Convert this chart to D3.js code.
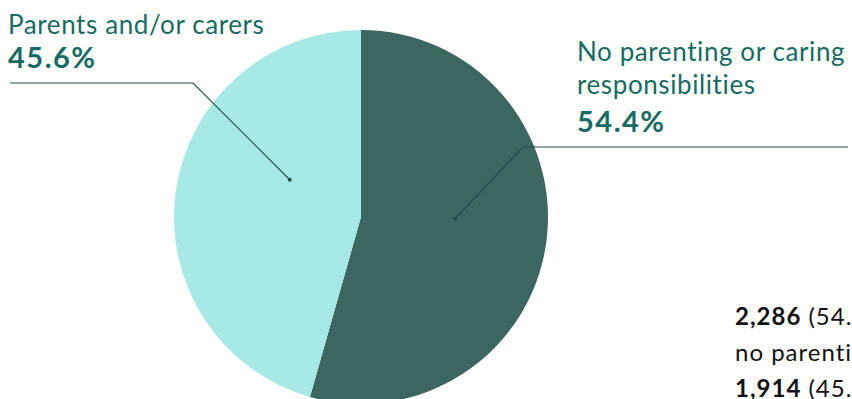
<!DOCTYPE html>
<html>
<head>
<meta charset="utf-8">
<style>
  html, body { margin: 0; padding: 0; background: #fff; overflow: hidden; }
  svg { display: block; }
</style>
</head>
<body>
<svg id="chart"></svg>
<script src="https://cdnjs.cloudflare.com/ajax/libs/d3/7.8.5/d3.min.js"></script>
<script>

  // data
  var categories = ['No parenting or caring responsibilities', 'Parents and/or carers'],
      shares     = [54.4, 45.6],
      counts     = [2286, 1914],
      notes      = ['had no parenting or caring responsibilities', 'were parents and/or carers'];

  // sizes and colours
  var width    = 852,
      height   = 399,
      cx       = 361,
      cy       = 217,
      radius   = 187,
      colors   = ['#3e6661', '#a7e9e4'],
      teal     = '#176b62',
      leader   = '#1e4d48',
      font     = 'Lato, "Open Sans", sans-serif';

  var svg = d3.select('#chart')
              .attr('width', width)
              .attr('height', height);

  var pie = d3.pie().sort(null).value(function(d) { return d; });
  var arcs = pie(shares);

  var arc = d3.arc().innerRadius(0).outerRadius(radius);

  var g = svg.append('g').attr('transform', 'translate(' + cx + ',' + cy + ')');

  g.selectAll('path.slice')
    .data(arcs)
    .enter().append('path')
      .attr('class', 'slice')
      .attr('d', arc)
      .style('fill', function(d, i) { return colors[i]; });

  // leader lines: anchor inside slice (fraction of angle span, fraction of radius),
  // elbow and end of horizontal run, plus label block position
  var labels = [
    { t: 0.465, r: 0.503, elbow: [523, 147], end: 848, tx: 577, ty: [61, 94], py: 132 },
    { t: 0.62,  r: 0.43,  elbow: [193, 83],  end: 10,  tx: 8,   ty: [34],     py: 68  }
  ];
  var lines = [['No parenting or caring', 'responsibilities'], ['Parents and/or carers']];

  labels.forEach(function(L, i) {
    var a  = arcs[i].startAngle + (arcs[i].endAngle - arcs[i].startAngle) * L.t,
        ax = cx + Math.sin(a) * radius * L.r,
        ay = cy - Math.cos(a) * radius * L.r;

    svg.append('polyline')
       .attr('points', [[ax, ay], L.elbow, [L.end, L.elbow[1]]].map(function(p) { return p.join(','); }).join(' '))
       .style('fill', 'none')
       .style('stroke', leader)
       .style('stroke-width', 1.2);

    svg.append('circle')
       .attr('cx', ax).attr('cy', ay).attr('r', 2)
       .style('fill', leader);

    lines[i].forEach(function(s, j) {
      svg.append('text')
         .attr('x', L.tx).attr('y', L.ty[j])
         .style('font-family', font)
         .style('font-size', '26px')
         .style('letter-spacing', '0.6px')
         .style('fill', teal)
         .text(s);
    });

    svg.append('text')
       .attr('x', L.tx).attr('y', L.py)
       .style('font-family', font)
       .style('font-size', '29px')
       .style('letter-spacing', '1.5px')
       .style('font-weight', 'bold')
       .style('fill', teal)
       .text(d3.format('.1f')(shares[i]) + '%');
  });

  // summary text, bottom right (runs off the edge, as in the source)
  var fmt = d3.format(',');
  var summary = svg.append('g')
                   .style('font-family', font)
                   .style('font-size', '24px')
                   .style('letter-spacing', '1px')
                   .style('fill', '#111');

  var t1 = summary.append('text').attr('x', 735).attr('y', 325);
  t1.append('tspan').style('font-weight', 'bold').text(fmt(counts[0]));
  t1.append('tspan').text(' (' + shares[0] + '%) respondents');

  summary.append('text').attr('x', 735).attr('y', 361).text(notes[0].replace('had ', ''));

  var t3 = summary.append('text').attr('x', 735).attr('y', 397);
  t3.append('tspan').style('font-weight', 'bold').text(fmt(counts[1]));
  t3.append('tspan').text(' (' + shares[1] + '%) ' + notes[1]);

</script>
</body>
</html>
